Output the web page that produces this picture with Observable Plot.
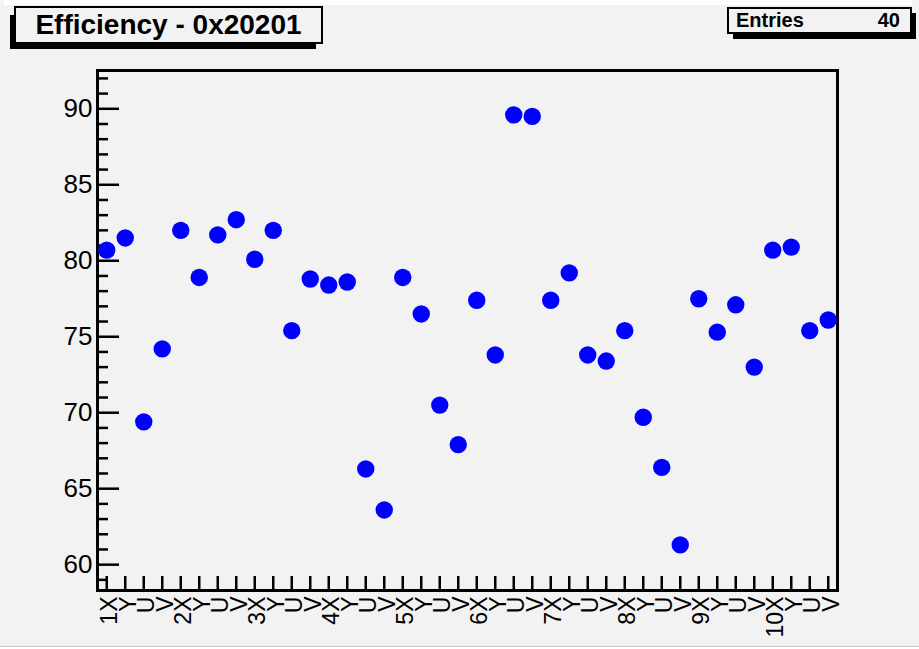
<!DOCTYPE html>
<html>
<head>
<meta charset="utf-8">
<script src="https://cdn.jsdelivr.net/npm/d3@7"></script>
<script src="https://cdn.jsdelivr.net/npm/@observablehq/plot@0.6"></script>
<style>
  html, body { margin: 0; padding: 0; background: #f2f2f2; width: 919px; height: 649px; overflow: hidden; }
  body { position: relative; font-family: "Liberation Sans", Arial, Helvetica, sans-serif; }
  #chart { position: absolute; left: 0; top: 0; }
  .topstrip { position: absolute; left: 4px; top: 0; width: 908px; height: 5px; background: #ffffff; }
  .botline { position: absolute; left: 0; top: 646px; width: 919px; height: 1px; background: #c8c8c8; }
  .botwhite { position: absolute; left: 0; top: 647px; width: 919px; height: 2px; background: #ffffff; }
  .shadow { position: absolute; background: #000; }
  .pave { position: absolute; box-sizing: border-box; border: 2px solid #000; background: #f2f2f2; }
  #title { left: 14px; top: 6px; width: 309px; height: 38px; font-weight: bold; font-size: 28px; line-height: 34px; text-align: center; }
  #stats { left: 727px; top: 7px; width: 185px; height: 27px; font-weight: bold; font-size: 20px; line-height: 23px; }
  #stats .k { position: absolute; left: 7px; top: 0; }
  #stats .v { position: absolute; right: 10px; top: 0; }
</style>
</head>
<body>
<div class="topstrip"></div>
<div id="chart"></div>
<div class="shadow" style="left:10px; top:15px; width:5px; height:34px;"></div>
<div class="shadow" style="left:10px; top:43px; width:306px; height:6px;"></div>
<div class="pave" id="title"><span id="titletext"></span></div>
<div class="shadow" style="left:910px; top:13px; width:6px; height:26px;"></div>
<div class="shadow" style="left:733px; top:32px; width:183px; height:7px;"></div>
<div class="pave" id="stats"><span class="k" id="statk"></span><span class="v" id="statv"></span></div>
<div class="botline"></div>
<div class="botwhite"></div>
<script>
const titleText = "Efficiency - 0x20201";
const statLabel = "Entries";
const statValue = "40";

const layers = ["1", "2", "3", "4", "5", "6", "7", "8", "9", "10"];
const views = ["X", "Y", "U", "V"];
const binLabels = layers.flatMap(l => views.map((v, j) => (j === 0 ? l + v : v)));

const efficiency = [
  80.7, 81.5, 69.4, 74.2,
  82.0, 78.9, 81.7, 82.7,
  80.1, 82.0, 75.4, 78.8,
  78.4, 78.6, 66.3, 63.6,
  78.9, 76.5, 70.5, 67.9,
  77.4, 73.8, 89.6, 89.5,
  77.4, 79.2, 73.8, 73.4,
  75.4, 69.7, 66.4, 61.3,
  77.5, 75.3, 77.1, 73.0,
  80.7, 80.9, 75.4, 76.1
];

const yMajor = [60, 65, 70, 75, 80, 85, 90];
const yMinor = d3.range(59, 93, 1).filter(v => v % 5 !== 0);
const yDomain = [58.3, 92.52];

const data = efficiency.map((v, i) => ({bin: i + 0.5, value: v}));
const xTicks = binLabels.map((_, i) => i + 0.5);

document.getElementById("titletext").textContent = titleText;
document.getElementById("statk").textContent = statLabel;
document.getElementById("statv").textContent = statValue;

const chart = Plot.plot({
  width: 919,
  height: 649,
  marginLeft: 97,
  marginRight: 82,
  marginTop: 70,
  marginBottom: 59,
  style: {background: "transparent", fontFamily: "Liberation Sans, Arial, Helvetica, sans-serif", color: "#000"},
  x: {domain: [0, binLabels.length], axis: null},
  y: {domain: yDomain, axis: null},
  marks: [
    Plot.axisY(yMajor, {tickSize: -22, fill: "none", strokeWidth: 2.5}),
    Plot.axisY(yMinor, {tickSize: -11, fill: "none", strokeWidth: 2.5}),
    Plot.axisY(yMajor, {tickSize: 0, tickPadding: 5, fontSize: 26, label: null, stroke: "none"}),
    Plot.axisX(xTicks, {anchor: "bottom", tickSize: -14, fill: "none", strokeWidth: 2.5, label: null}),
    Plot.axisX(xTicks, {anchor: "bottom", tickSize: 0, tickPadding: 6, tickRotate: -90, fontSize: 23,
      tickFormat: (d) => binLabels[Math.round(d - 0.5)], label: null, stroke: "none", dx: 3}),
    Plot.frame({stroke: "#000", strokeWidth: 3}),
    Plot.dot(data, {x: "bin", y: "value", r: 8.7, fill: "#0000ff", stroke: "none"})
  ]
});
document.getElementById("chart").appendChild(chart);
</script>
</body>
</html>
